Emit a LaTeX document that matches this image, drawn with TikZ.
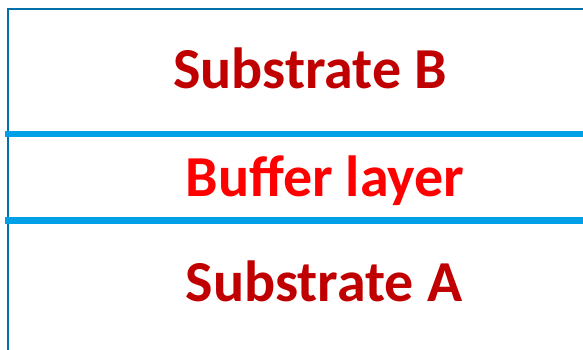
\documentclass[tikz,border=0pt]{standalone}
\usepackage{fontspec}
\setmainfont{Carlito}
\definecolor{frameblue}{RGB}{0,112,170}
\definecolor{layerblue}{RGB}{0,160,232}
\definecolor{darkred}{RGB}{192,0,0}
\definecolor{brightred}{RGB}{255,0,0}

\tikzset{
  frameline/.style  = {draw=frameblue, line width=2.5pt},
  interface/.style  = {draw=layerblue, line width=6.5pt},
  layertext/.style  = {anchor=base, inner sep=0pt,
                       font=\fontsize{58}{60}\selectfont\bfseries},
  substrate/.style  = {layertext, text=darkred},
  buffer/.style     = {layertext, text=brightred}
}

\begin{document}
\begin{tikzpicture}[x=1pt,y=1pt]
\useasboundingbox (0,0) rectangle (583,350);
% frame corner
\coordinate (topleft)  at (8,341);
\coordinate (topright) at (583,341);
\coordinate (botleft)  at (8,0);
\draw[frameline] (botleft) -- (topleft) -- (topright);
% interfaces
\coordinate (upL) at (5,216);
\coordinate (upR) at (583,216);
\coordinate (loL) at (5,129.5);
\coordinate (loR) at (583,129.5);
\draw[interface] (upL) -- (upR);
\draw[interface] (loL) -- (loR);
% layer labels
\node[substrate] (subB) at (310,261) {Substrate B};
\node[buffer]    (buf)  at (325,153) {Buffer layer};
\node[substrate] (subA) at (324,48)  {Substrate A};
\end{tikzpicture}
\end{document}
